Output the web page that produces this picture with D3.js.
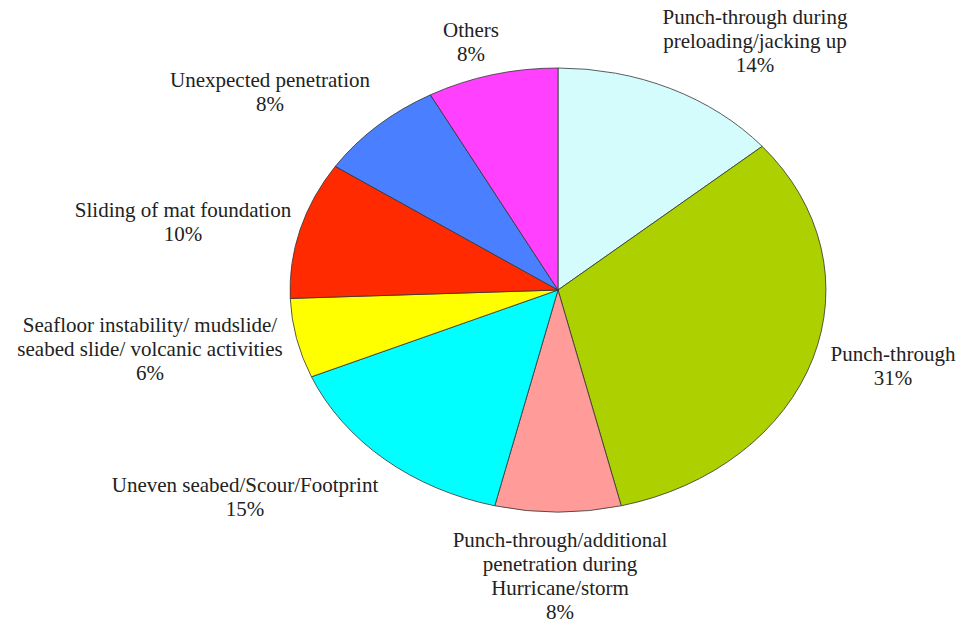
<!DOCTYPE html>
<html>
<head>
<meta charset="utf-8">
<script src="https://cdn.jsdelivr.net/npm/d3@7"></script>
<style>
  body { margin: 0; background: #fff; }
  svg { display: block; }
</style>
</head>
<body>
<svg width="960" height="624"></svg>
<script>
// slice names, clockwise from 12 o'clock
const categories = [
  "Punch-through during preloading/jacking up",
  "Punch-through",
  "Punch-through/additional penetration during Hurricane/storm",
  "Uneven seabed/Scour/Footprint",
  "Seafloor instability/ mudslide/ seabed slide/ volcanic activities",
  "Sliding of mat foundation",
  "Unexpected penetration",
  "Others"
];
// slice sizes (the printed labels are rounded)
const values = [13.8, 32.4, 7.6, 14.8, 5.8, 10.0, 7.7, 7.9];
const pctLabels = ["14%", "31%", "8%", "15%", "6%", "10%", "8%", "8%"];
const colors = ["#d4fcfd", "#acd000", "#ff9b98", "#00ffff", "#ffff00", "#ff2a00", "#4a80ff", "#ff40ff"];

// how the label text is broken into lines
const labelLines = [
  ["Punch-through during", "preloading/jacking up"],
  ["Punch-through"],
  ["Punch-through/additional", "penetration during", "Hurricane/storm"],
  ["Uneven seabed/Scour/Footprint"],
  ["Seafloor instability/ mudslide/", "seabed slide/ volcanic activities"],
  ["Sliding of mat foundation"],
  ["Unexpected penetration"],
  ["Others"]
];

// where each label block sits (centre x, first baseline y)
const labelPos = [
  [755, 24], [893, 361], [560, 547], [245, 492],
  [150, 332], [183, 217], [270, 87], [471, 37]
];

const cx = 558, cy = 290, rx = 268, ry = 222;
const lineH = 24;

const svg = d3.select("svg");

const pie = d3.pie().sort(null).value(d => d);
const arcs = pie(values);
const arc = d3.arc().innerRadius(0).outerRadius(1);

// unit pie squashed into an ellipse
const g = svg.append("g")
  .attr("transform", "translate(" + cx + "," + cy + ") scale(" + rx + "," + ry + ")");

g.selectAll("path")
  .data(arcs)
  .enter()
  .append("path")
  .attr("d", arc)
  .attr("fill", (d, i) => colors[i])
  .attr("stroke", "#333")
  .attr("stroke-width", 0.8)
  .attr("vector-effect", "non-scaling-stroke");

// labels, one text per line
labelLines.forEach((lines, i) => {
  lines.concat([pctLabels[i]]).forEach((s, k) => {
    svg.append("text")
      .attr("x", labelPos[i][0])
      .attr("y", labelPos[i][1] + k * lineH)
      .attr("text-anchor", "middle")
      .style("font-family", "\"Liberation Serif\", \"Times New Roman\", serif")
      .style("font-size", "21px")
      .style("fill", "#222")
      .text(s);
  });
});
</script>
</body>
</html>
